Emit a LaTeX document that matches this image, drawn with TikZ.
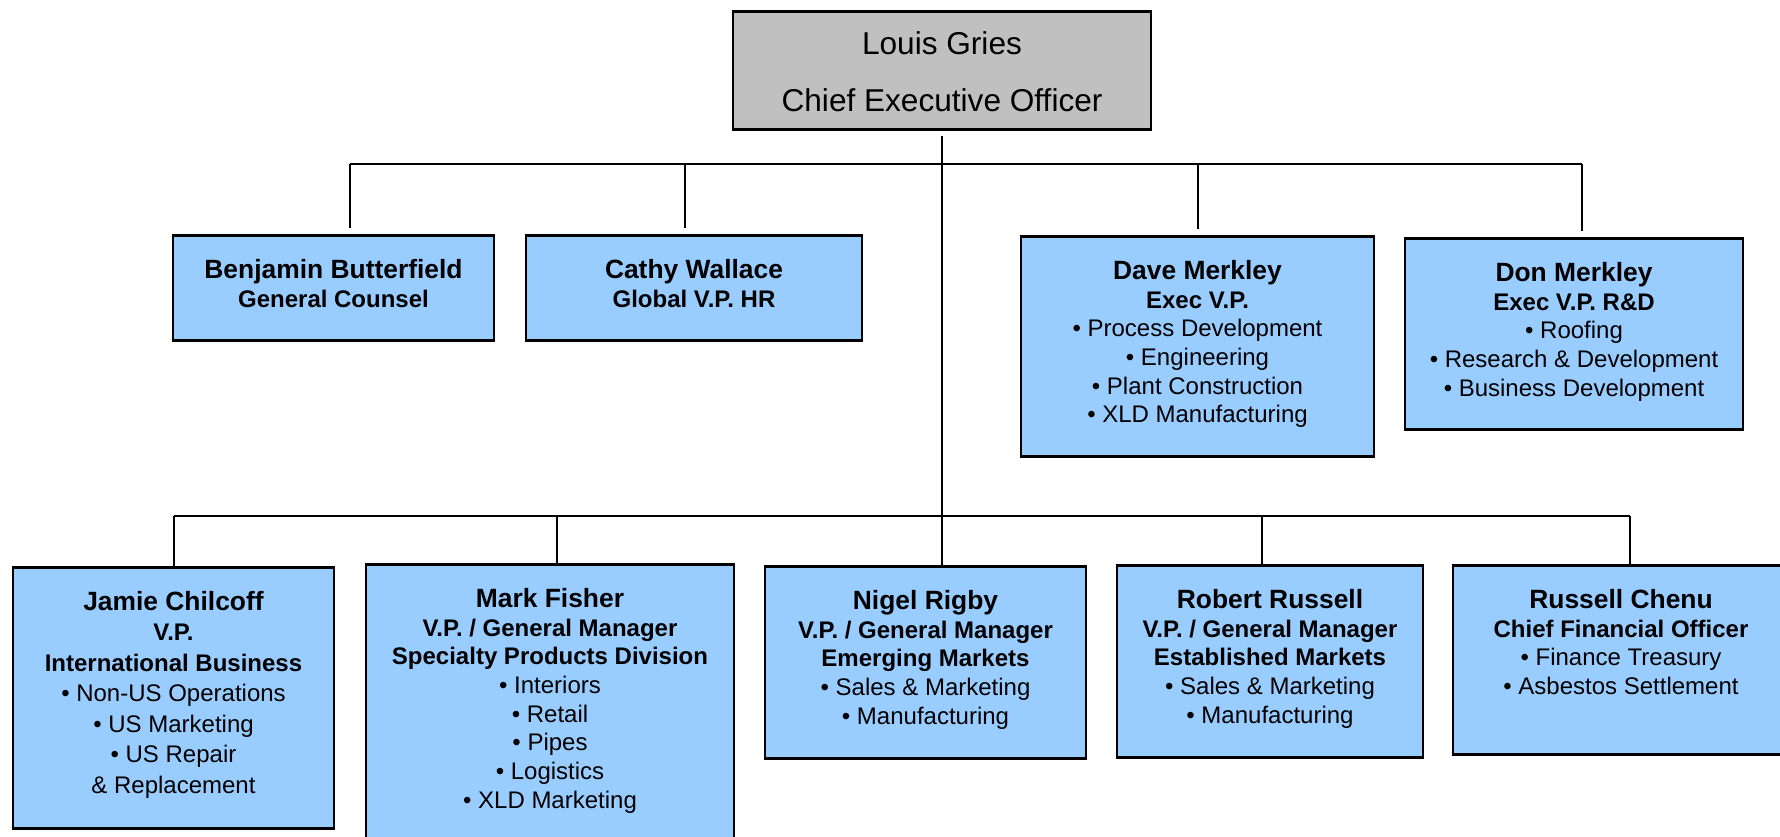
\documentclass[tikz,border=0pt]{standalone}
\usepackage{fontspec}
\setmainfont{Liberation Sans}
\usepackage{tikz}

\definecolor{boxblue}{HTML}{99CCFF}
\definecolor{ceogray}{HTML}{C0C0C0}

% box text: width and height in pixels, text starts at the top
\newcommand\orgcard[4][14.35pt]{\parbox[t][\dimexpr#3pt/2\relax][t]{\dimexpr#2pt/2\relax}{\centering\fontsize{12pt}{#1}\selectfont\rule{0pt}{21.5pt}#4}}
\newcommand\orgname[1]{{\fontsize{13.2pt}{14.35pt}\selectfont\bfseries #1}}

\tikzset{
    staff/.style={draw=black, line width=1.4pt, fill=boxblue, inner sep=0pt, anchor=north},
    chief/.style={staff, fill=ceogray},
    link/.style={line width=1.1pt}
}

\begin{document}
\begin{tikzpicture}[x=0.5pt, y=-0.5pt]
    \useasboundingbox (0,0) rectangle (1780,836);
    \clip (0,0) rectangle (1780,836);

    \node[chief] (ceo) at (942,10) {\parbox[t][59pt][t]{209pt}{\centering\fontsize{15.8pt}{28.5pt}\selectfont\rule{0pt}{21.5pt}Louis Gries\\Chief Executive Officer}};

    \node[staff] (benjamin) at (333.5,234) {\orgcard{321}{105}{\orgname{Benjamin Butterfield}\\\textbf{General Counsel}}};
    \node[staff] (cathy) at (694,234) {\orgcard{336}{105}{\orgname{Cathy Wallace}\\\textbf{Global V.P. HR}}};
    \node[staff] (dave) at (1197.5,235) {\orgcard{353}{220}{\orgname{Dave Merkley}\\\textbf{Exec V.P.}\\• Process Development\\• Engineering\\• Plant Construction\\• XLD Manufacturing}};
    \node[staff] (don) at (1574,237) {\orgcard{338}{191}{\orgname{Don Merkley}\\\textbf{Exec V.P. R\&D}\\• Roofing\\• Research \& Development\\• Business Development}};

    \node[staff] (jamie) at (173.5,566) {\orgcard[15.25pt]{321}{261}{\orgname{Jamie Chilcoff}\\\textbf{V.P.}\\\textbf{International Business}\\• Non-US Operations\\• US Marketing\\• US Repair\\\& Replacement}};
    \node[staff] (mark) at (550,563) {\orgcard{368}{290}{\orgname{Mark Fisher}\\\textbf{V.P. / General Manager}\\\textbf{Specialty Products Division}\\• Interiors\\• Retail\\• Pipes\\• Logistics\\• XLD Marketing}};
    \node[staff] (nigel) at (925.5,565) {\orgcard{321}{192}{\orgname{Nigel Rigby}\\\textbf{V.P. / General Manager}\\\textbf{Emerging Markets}\\• Sales \& Marketing\\• Manufacturing}};
    \node[staff] (robert) at (1270,564) {\orgcard{306}{192}{\orgname{Robert Russell}\\\textbf{V.P. / General Manager}\\\textbf{Established Markets}\\• Sales \& Marketing\\• Manufacturing}};
    \node[staff] (russell) at (1621,564) {\orgcard{336}{189}{\orgname{Russell Chenu}\\\textbf{Chief Financial Officer}\\• Finance Treasury\\• Asbestos Settlement}};

    % bars
    \coordinate (t1) at (350,164);
    \coordinate (t2) at (685,164);
    \coordinate (t3) at (1198,164);
    \coordinate (t4) at (1582,164);
    \coordinate (b1) at (174,516);
    \coordinate (b2) at (557,516);
    \coordinate (b3) at (942,516);
    \coordinate (b4) at (1262,516);
    \coordinate (b5) at (1630,516);

    \draw[link, shorten <=2.5pt] (ceo.south) -- (ceo.south |- nigel.north);
    \draw[link] (t1) -- (t4);
    \draw[link] (b1) -- (b5);

    \draw[link, shorten >=3pt] (t1) -- (t1 |- benjamin.north);
    \draw[link, shorten >=3pt] (t2) -- (t2 |- cathy.north);
    \draw[link, shorten >=3pt] (t3) -- (t3 |- dave.north);
    \draw[link, shorten >=3pt] (t4) -- (t4 |- don.north);

    \draw[link] (b1) -- (b1 |- jamie.north);
    \draw[link] (b2) -- (b2 |- mark.north);
    \draw[link] (b4) -- (b4 |- robert.north);
    \draw[link] (b5) -- (b5 |- russell.north);
\end{tikzpicture}
\end{document}
